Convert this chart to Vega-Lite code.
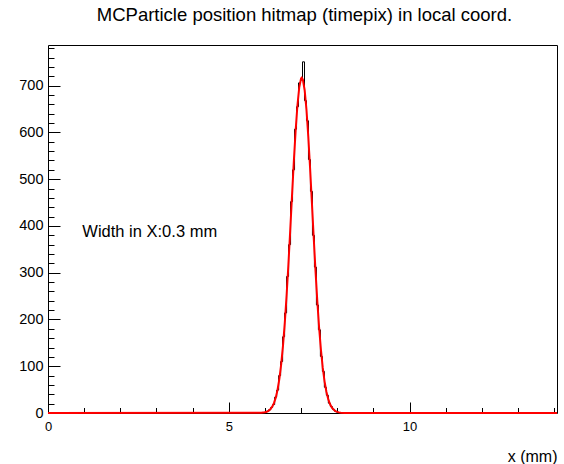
{
  "$schema": "https://vega.github.io/schema/vega-lite/v6.json",
  "width": 509,
  "height": 368,
  "autosize": {"type": "none"},
  "padding": {"left": 48, "top": 45, "right": 7, "bottom": 51},
  "background": "white",
  "title": {
    "text": "MCParticle position hitmap (timepix) in local coord.",
    "font": "Liberation Sans",
    "fontSize": 18.5,
    "fontWeight": "normal",
    "color": "#000",
    "anchor": "middle",
    "frame": "group",
    "baseline": "alphabetic",
    "offset": 6,
    "dx": 2
  },
  "config": {
    "view": {"stroke": "#000", "strokeWidth": 1},
    "font": "Liberation Sans",
    "axis": {
      "domain": false,
      "grid": false,
      "tickColor": "#000",
      "tickWidth": 1,
      "labelColor": "#000",
      "labelFont": "Liberation Sans",
      "labelFontSize": 14.5,
      "labelOverlap": false,
      "labelFlush": false,
      "labelBound": false,
      "titleFont": "Liberation Sans",
      "titleFontWeight": "normal",
      "titleColor": "#000"
    }
  },
  "datasets": {
    "hist": [
      {"x": 0, "n": 0},
      {"x": 5.885, "n": 0},
      {"x": 5.94, "n": 1},
      {"x": 5.995, "n": 2},
      {"x": 6.05, "n": 4},
      {"x": 6.105, "n": 7},
      {"x": 6.16, "n": 12},
      {"x": 6.215, "n": 18},
      {"x": 6.27, "n": 34},
      {"x": 6.325, "n": 49},
      {"x": 6.38, "n": 80},
      {"x": 6.435, "n": 110},
      {"x": 6.49, "n": 163},
      {"x": 6.545, "n": 214},
      {"x": 6.6, "n": 292},
      {"x": 6.655, "n": 360},
      {"x": 6.71, "n": 452},
      {"x": 6.765, "n": 520},
      {"x": 6.82, "n": 607},
      {"x": 6.875, "n": 655},
      {"x": 6.93, "n": 706},
      {"x": 6.985, "n": 712},
      {"x": 7.04, "n": 751},
      {"x": 7.095, "n": 668},
      {"x": 7.15, "n": 625},
      {"x": 7.205, "n": 542},
      {"x": 7.26, "n": 474},
      {"x": 7.315, "n": 380},
      {"x": 7.37, "n": 312},
      {"x": 7.425, "n": 231},
      {"x": 7.48, "n": 178},
      {"x": 7.535, "n": 121},
      {"x": 7.59, "n": 89},
      {"x": 7.645, "n": 55},
      {"x": 7.7, "n": 38},
      {"x": 7.755, "n": 21},
      {"x": 7.81, "n": 14},
      {"x": 7.865, "n": 8},
      {"x": 7.92, "n": 4},
      {"x": 7.975, "n": 2},
      {"x": 8.03, "n": 1},
      {"x": 8.085, "n": 0},
      {"x": 14.08, "n": 0}
    ],
    "fit": [
      {"x": 0, "f": 0},
      {"x": 5.9, "f": 0.4},
      {"x": 6.0, "f": 1.5},
      {"x": 6.05, "f": 2.7},
      {"x": 6.1, "f": 4.7},
      {"x": 6.15, "f": 8.0},
      {"x": 6.2, "f": 13.2},
      {"x": 6.25, "f": 21.1},
      {"x": 6.3, "f": 32.9},
      {"x": 6.35, "f": 49.7},
      {"x": 6.4, "f": 72.9},
      {"x": 6.45, "f": 103.9},
      {"x": 6.5, "f": 143.6},
      {"x": 6.55, "f": 192.9},
      {"x": 6.6, "f": 251.2},
      {"x": 6.65, "f": 317.7},
      {"x": 6.7, "f": 390.0},
      {"x": 6.75, "f": 464.8},
      {"x": 6.8, "f": 537.7},
      {"x": 6.85, "f": 603.8},
      {"x": 6.9, "f": 658.1},
      {"x": 6.95, "f": 696.4},
      {"x": 7.0, "f": 715.3},
      {"x": 7.02, "f": 717},
      {"x": 7.05, "f": 713.2},
      {"x": 7.1, "f": 690.3},
      {"x": 7.15, "f": 648.5},
      {"x": 7.2, "f": 591.4},
      {"x": 7.25, "f": 523.5},
      {"x": 7.3, "f": 449.9},
      {"x": 7.35, "f": 375.3},
      {"x": 7.4, "f": 303.9},
      {"x": 7.45, "f": 238.8},
      {"x": 7.5, "f": 182.3},
      {"x": 7.55, "f": 135.0},
      {"x": 7.6, "f": 97.0},
      {"x": 7.65, "f": 67.7},
      {"x": 7.7, "f": 45.9},
      {"x": 7.75, "f": 30.2},
      {"x": 7.8, "f": 19.3},
      {"x": 7.85, "f": 11.9},
      {"x": 7.9, "f": 7.2},
      {"x": 7.95, "f": 4.2},
      {"x": 8.0, "f": 2.4},
      {"x": 8.05, "f": 1.3},
      {"x": 8.1, "f": 0.7},
      {"x": 8.2, "f": 0.2},
      {"x": 14.08, "f": 0}
    ],
    "note": [
      {"x": 0.95, "y": 376, "label": "Width in X:0.3 mm"}
    ]
  },
  "layer": [
    {
      "data": {"name": "hist"},
      "mark": {"type": "line", "interpolate": "step-after", "color": "#000", "strokeWidth": 1},
      "encoding": {
        "x": {
          "field": "x", "type": "quantitative",
          "scale": {"domain": [0, 14.08], "nice": false, "zero": false},
          "axis": {
            "orient": "bottom",
            "values": [0, 5, 10],
            "tickSize": -11,
            "labelPadding": 18,
            "labelFontSize": 13,
            "title": "x (mm)",
            "titleFontSize": 16,
            "titleAnchor": "end",
            "titleAlign": "right",
            "titleBaseline": "alphabetic",
            "titleY": 48,
            "titleX": 509
          }
        },
        "y": {
          "field": "n", "type": "quantitative",
          "scale": {"domain": [0, 787], "nice": false},
          "axis": {
            "orient": "left",
            "values": [0, 100, 200, 300, 400, 500, 600, 700],
            "tickSize": -12,
            "labelPadding": 17,
            "title": null
          }
        }
      }
    },
    {
      "data": {"name": "fit"},
      "mark": {"type": "line", "color": "#ff0000", "strokeWidth": 2},
      "encoding": {
        "x": {
          "field": "x", "type": "quantitative",
          "scale": {"domain": [0, 14.08], "nice": false, "zero": false},
          "axis": {
            "orient": "bottom",
            "values": [1, 2, 3, 4, 6, 7, 8, 9, 11, 12, 13, 14],
            "tickSize": -5.5,
            "labels": false,
            "title": null
          }
        },
        "y": {
          "field": "f", "type": "quantitative",
          "scale": {"domain": [0, 787], "nice": false},
          "axis": {
            "orient": "left",
            "values": [20, 40, 60, 80, 120, 140, 160, 180, 220, 240, 260, 280, 320, 340, 360, 380, 420, 440, 460, 480, 520, 540, 560, 580, 620, 640, 660, 680, 720, 740, 760, 780],
            "tickSize": -6,
            "labels": false,
            "title": null
          }
        }
      }
    },
    {
      "data": {"name": "note"},
      "mark": {"type": "text", "align": "left", "baseline": "alphabetic", "fontSize": 16.5, "font": "Liberation Sans", "color": "#000"},
      "encoding": {
        "x": {"field": "x", "type": "quantitative", "scale": {"domain": [0, 14.08], "nice": false, "zero": false}, "axis": null},
        "y": {"field": "y", "type": "quantitative", "scale": {"domain": [0, 787], "nice": false}, "axis": null},
        "text": {"field": "label", "type": "nominal"}
      }
    }
  ],
  "resolve": {"axis": {"x": "independent", "y": "independent"}}
}
